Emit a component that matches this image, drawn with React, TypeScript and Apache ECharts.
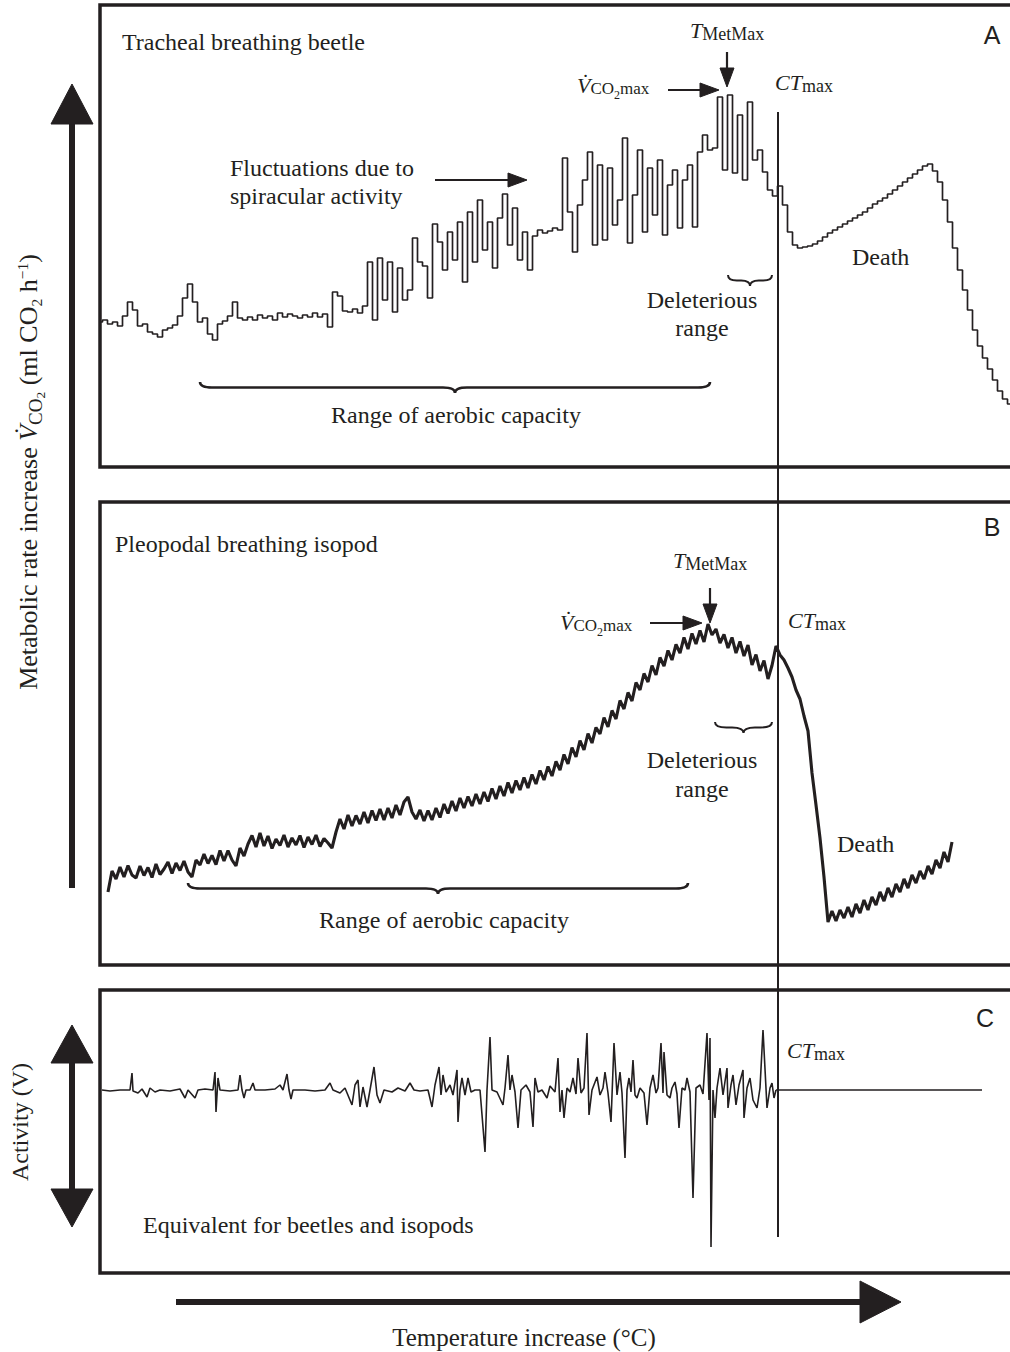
import React, { useEffect, useRef } from 'react';
import * as echarts from 'echarts';

const SERIF = "'Liberation Serif', 'Times New Roman', Times, serif";
const SANS = "'Liberation Sans', Arial, Helvetica, sans-serif";
const INK = '#231f20';

// Temperature index (arbitrary units) shared by the three panels
const tempMax = 93;
const ctMax = 67.8;

// Panel A: tracheal breathing beetle, VCO2 (arbitrary units), sampled every 0.5 temperature units
const beetleStart = 0;
const beetleStep = 0.5;
const beetleVCO2 = [
  29.0, 29.4, 28.6, 29.0, 28.2, 30.2, 33.0, 31.4, 28.2, 28.6,
  27.0, 26.6, 26.0, 27.4, 27.8, 28.4, 30.2, 33.8, 36.6, 33.0,
  29.0, 29.8, 26.6, 25.4, 28.6, 29.2, 30.2, 33.0, 29.8, 29.4,
  30.0, 29.4, 30.4, 29.8, 30.2, 29.4, 30.8, 30.0, 30.6, 30.2,
  29.8, 30.4, 30.0, 30.8, 30.0, 30.6, 28.0, 35.0, 34.2, 31.2,
  31.0, 31.6, 30.8, 32.2, 41.0, 29.4, 41.8, 33.4, 41.0, 31.0,
  39.8, 33.4, 35.4, 45.8, 41.0, 40.2, 33.8, 48.6, 45.0, 39.4,
  47.0, 41.4, 49.0, 37.0, 51.0, 41.0, 53.4, 43.4, 49.0, 39.8,
  49.8, 54.6, 44.4, 51.8, 41.4, 47.0, 39.4, 46.2, 47.4, 46.8,
  47.2, 47.8, 47.4, 61.8, 51.0, 43.0, 52.4, 57.4, 63.0, 44.4,
  60.4, 45.4, 59.8, 48.4, 53.4, 65.8, 44.8, 54.4, 63.4, 47.0,
  59.8, 50.4, 61.4, 46.4, 56.4, 59.4, 47.8, 57.4, 60.4, 48.0,
  63.0, 66.4, 63.4, 63.8, 74.0, 59.4, 74.4, 58.8, 70.4, 57.4,
  73.0, 61.4, 63.4, 59.0, 55.4, 54.2, 56.2, 52.4, 47.0, 44.4,
  43.8, 44.0, 44.2, 44.6, 45.2, 46.0, 46.8, 47.4, 48.0, 48.6,
  49.2, 49.8, 50.4, 51.0, 51.8, 52.6, 53.2, 53.8, 54.6, 55.4,
  56.2, 57.0, 57.8, 58.6, 59.4, 60.2, 60.6, 59.2, 57.0, 53.4,
  49.0, 43.8, 39.4, 35.4, 31.4, 27.4, 24.2, 21.8, 19.6, 17.4,
  15.2, 13.6, 12.6,
];

// Panel B: pleopodal breathing isopod, sampled every 0.4 temperature units
const isopodStart = 0.8;
const isopodStep = 0.4;
const isopodVCO2 = [
  14.6, 18.8, 17.2, 19.6, 17.6, 19.9, 18.0, 17.4, 19.8, 17.9,
  19.5, 17.5, 20.2, 18.1, 19.2, 20.6, 18.3, 20.4, 18.9, 20.8,
  18.6, 17.6, 21.0, 20.0, 22.2, 20.3, 21.9, 20.1, 22.9, 20.8,
  22.9, 21.0, 19.8, 23.4, 21.8, 24.2, 25.9, 23.6, 26.4, 23.8,
  25.8, 23.3, 25.2, 23.9, 26.0, 23.6, 25.4, 24.0, 25.9, 23.5,
  25.6, 24.1, 26.0, 23.7, 25.3, 24.4, 23.4, 26.6, 29.2, 27.2,
  30.0, 27.8, 29.9, 28.2, 30.6, 28.4, 30.9, 28.9, 31.2, 29.0,
  31.4, 29.4, 32.0, 30.0, 32.6, 33.6, 30.6, 29.2, 31.0, 28.8,
  30.9, 29.0, 31.4, 29.5, 32.2, 30.3, 32.8, 30.8, 33.4, 31.4,
  33.7, 31.8, 34.2, 32.2, 34.6, 32.7, 35.3, 33.2, 35.8, 33.8,
  36.5, 34.4, 36.9, 35.0, 37.5, 35.4, 38.1, 36.2, 38.9, 37.0,
  39.7, 37.8, 40.7, 39.0, 42.1, 40.2, 43.5, 41.6, 44.9, 43.0,
  46.3, 44.4, 47.5, 46.2, 49.5, 47.6, 50.9, 49.2, 52.9, 51.2,
  54.5, 52.8, 56.5, 55.0, 58.3, 56.6, 59.9, 58.0, 61.5, 59.8,
  62.9, 61.0, 64.1, 62.4, 65.5, 63.2, 66.3, 64.2, 66.9, 64.6,
  68.2, 66.0, 67.2, 64.4, 66.1, 63.4, 65.5, 62.4, 64.7, 61.8,
  64.0, 60.0, 62.1, 58.8, 60.9, 57.2, 59.9, 63.8, 62.0, 61.0,
  59.4, 57.6, 55.0, 53.2, 49.8, 46.8, 38.4, 32.0, 25.4, 17.6,
  8.6, 10.8, 8.8, 11.0, 9.4, 11.6, 9.6, 12.2, 10.4, 13.0,
  11.0, 13.6, 12.0, 14.6, 12.8, 15.4, 13.6, 16.2, 14.6, 17.2,
  15.4, 18.0, 16.4, 18.8, 17.2, 19.8, 18.2, 21.0, 19.4, 22.6,
  20.6, 24.6,
];

// Panel C: activity (V) as [temperature, voltage] pairs up to CTmax, then flat
const activityBeforeCT = [
  [0.2, 0], [1.0, -0.2], [2.0, 0], [3.0, 0], [3.2, 3.4], [3.3, -0.2], [3.8, -0.6], [4.2, 0.2], [4.7, -1.4], [5.0, 0.4],
  [5.5, -0.4], [6.0, 0], [7.0, -0.2], [8.0, 0.2], [8.5, -1.6], [8.8, 0], [9.5, -1.6], [9.8, 0], [10.5, 0.2], [11.3, 0],
  [11.5, 3.6], [11.6, -4.4], [11.8, 2.4], [12.0, 0], [13.0, -0.2], [13.8, 0], [14.0, 3.0], [14.2, 0], [14.4, -1.6], [14.6, 0],
  [15.0, 0], [15.3, 1.4], [15.5, 0], [16.5, 0], [17.5, 0.2], [18.0, 1.0], [18.3, 0], [18.7, 3.2], [18.9, 0], [19.1, -1.8],
  [19.3, 0], [20.5, 0], [21.5, -0.2], [22.5, 0], [23.0, 1.4], [23.3, 0], [24.0, -0.6], [24.5, 0.4], [25.2, -3.0], [25.5, 1.0],
  [25.8, 2.0], [26.0, -3.4], [26.3, 0.6], [26.7, -3.4], [27.0, 0], [27.4, 4.6], [27.7, -1.0], [28.0, -2.6], [28.4, 0], [29.2, -0.4],
  [29.8, 0.4], [30.5, -0.2], [31.0, 1.4], [31.4, 0], [32.0, -0.2], [32.8, 0], [33.2, -3.4], [33.5, 1.0], [33.9, 4.6], [34.1, -1.0],
  [34.3, 3.0], [34.6, -0.4], [35.0, 1.0], [35.3, -1.0], [35.7, 4.0], [35.8, -6.4], [36.0, 0], [36.2, 2.4], [36.5, -1.0], [36.8, 2.4],
  [37.1, -0.4], [37.5, 0], [38.0, 0], [38.5, -12.4], [38.7, 0], [39.0, 10.6], [39.2, 0], [39.7, -0.4], [40.3, -3.0], [40.5, 0.4],
  [40.8, 7.0], [41.0, 0], [41.2, 3.0], [41.5, -0.4], [41.8, -7.6], [42.1, 0], [42.6, 1.0], [43.0, -0.4], [43.3, -7.4], [43.5, 2.4],
  [43.8, -0.4], [44.2, 0], [44.7, -1.6], [45.0, 0.8], [45.5, -0.4], [45.8, 6.4], [46.0, -4.4], [46.2, 0], [46.4, -5.6], [46.7, 0.4],
  [47.0, -0.4], [47.3, 2.4], [47.6, -0.8], [47.8, 6.4], [48.1, -0.6], [48.4, 0.4], [48.7, 11.4], [48.9, -5.0], [49.2, 0], [49.7, 2.6],
  [50.0, -1.0], [50.3, 0.4], [50.5, 3.6], [50.8, -0.6], [51.1, -6.4], [51.4, 9.4], [51.7, -1.0], [52.0, 3.6], [52.2, -0.6], [52.5, -13.6],
  [52.7, 0], [52.9, 2.4], [53.1, -0.4], [53.3, 6.0], [53.5, -1.0], [53.7, -1.6], [54.0, 0.4], [54.4, -0.6], [54.7, -7.0], [55.0, 0.4],
  [55.3, 3.0], [55.6, -0.6], [55.8, 0.4], [56.1, 9.4], [56.3, -0.6], [56.4, 7.6], [56.7, -1.0], [57.0, -1.6], [57.2, 0.4], [57.5, 1.6],
  [57.7, -0.8], [57.9, -7.6], [58.2, 0.4], [58.5, 0], [58.7, 2.4], [59.0, -0.4], [59.3, -21.6], [59.6, 0.4], [60.0, 1.0], [60.3, -0.8],
  [60.7, 11.4], [60.9, -2.0], [61.0, 10.4], [61.1, -31.4], [61.3, 0], [61.5, -5.6], [61.7, 0.4], [62.0, 4.4], [62.3, -1.0], [62.7, 4.4],
  [62.8, -3.6], [63.1, 1.0], [63.3, 3.0], [63.6, -3.0], [63.9, 1.0], [64.3, 4.0], [64.4, -5.6], [64.7, 0.4], [65.0, 2.4], [65.3, -2.0],
  [65.7, -3.6], [66.0, 0.4], [66.3, 12.0], [66.7, -3.6], [67.0, 0.4], [67.2, 1.4], [67.4, -1.6], [67.6, 0],
];
const activityAfterCT = [[67.6, 0], [78.0, 0], [88.2, 0]];

// Axis ranges for each panel
const beetleRange = [0, 92.4];
const isopodRange = [0, 92.6];
const activityRange = [-36.6, 20];

// Brace shapes
function bracePath(w: number, h: number) {
  const m = w / 2;
  const q = Math.min(12, w / 5);
  const y = h / 2;
  return `M0 0 Q0 ${y} ${q} ${y} L${m - q} ${y} Q${m} ${y} ${m} ${h} Q${m} ${y} ${m + q} ${y} L${w - q} ${y} Q${w} ${y} ${w} 0`;
}
echarts.graphic.registerShape('braceAerobicA', echarts.graphic.extendPath(bracePath(510, 11), {}));
echarts.graphic.registerShape('braceAerobicB', echarts.graphic.extendPath(bracePath(500, 11), {}));
echarts.graphic.registerShape('braceDelA', echarts.graphic.extendPath(bracePath(44, 11), {}));
echarts.graphic.registerShape('braceDelB', echarts.graphic.extendPath(bracePath(57, 11), {}));

const gridStyle = {
  show: true, borderColor: INK, borderWidth: 3.5, backgroundColor: 'transparent',
  outerBoundsMode: 'none', containLabel: false,
};

function text(x: number, y: number, s: string, size = 24, align = 'left', family = SERIF) {
  return {
    type: 'text', x, y, silent: true, z: 10,
    style: { text: s, font: `${size}px ${family}`, fill: INK, align, verticalAlign: 'middle' },
  };
}

const annotRich = {
  it: { fontFamily: SERIF, fontStyle: 'italic', fontSize: 22, fill: INK },
  sub: { fontFamily: SERIF, fontSize: 18, fill: INK, verticalAlign: 'bottom', height: 22 },
  co: { fontFamily: SERIF, fontSize: 17, fill: INK, verticalAlign: 'bottom', height: 22.6 },
  two: { fontFamily: SERIF, fontSize: 12, fill: INK, verticalAlign: 'bottom', height: 11 },
};

function rich(x: number, y: number, s: string) {
  return {
    type: 'text', x, y, silent: true, z: 10,
    style: { text: s, rich: annotRich, lineHeight: 30, fill: INK, align: 'left', verticalAlign: 'middle' },
  };
}

const V = 'V\u0307';

function line(x1: number, y1: number, x2: number, y2: number, w: number) {
  return { type: 'line', silent: true, z: 10, shape: { x1, y1, x2, y2 }, style: { stroke: INK, lineWidth: w } };
}
function head(points: number[][]) {
  return { type: 'polygon', silent: true, z: 10, shape: { points }, style: { fill: INK, stroke: INK, lineWidth: 1 } };
}
function brace(type: string, x: number, y: number, w = 2.6) {
  return { type, x, y, silent: true, z: 10, style: { stroke: INK, fill: 'none', lineWidth: w } };
}

function buildGraphics(ctX: number) {
  const yLabelRich = {
    n: { fontFamily: SERIF, fontSize: 26, fill: INK },
    vi: { fontFamily: SERIF, fontSize: 26, fontStyle: 'italic', fill: INK },
    co: { fontFamily: SERIF, fontSize: 19, fill: INK, verticalAlign: 'bottom', height: 17 },
    c2: { fontFamily: SERIF, fontSize: 13.5, fill: INK, verticalAlign: 'bottom', height: 8 },
    s2: { fontFamily: SERIF, fontSize: 15.5, fill: INK, verticalAlign: 'bottom', height: 15 },
    sup: { fontFamily: SERIF, fontSize: 15.5, fill: INK, verticalAlign: 'top', height: 21 },
  };
  return [
    // CTmax vertical line across panels
    line(ctX, 112, ctX, 1237, 2),

    // Panel A
    text(122, 42, 'Tracheal breathing beetle'),
    text(992, 35, 'A', 25, 'center', SANS),
    text(230, 168, 'Fluctuations due to'),
    text(230, 196, 'spiracular activity'),
    line(435, 180, 512, 180, 2.2),
    head([[527, 180], [508, 173], [508, 187]]),
    rich(577, 85, `{it|${V}}{co|CO}{two|2}{co|max}`),
    line(668, 90, 703, 90, 2.2),
    head([[719, 90], [700, 83], [700, 97]]),
    rich(690, 30, '{it|T}{sub|MetMax}'),
    line(727, 52, 727, 70, 2.2),
    head([[727, 87], [720, 68], [734, 68]]),
    rich(775, 82, '{it|CT}{sub|max}'),
    brace('braceDelA', 728, 275, 2),
    text(702, 300, 'Deleterious', 24, 'center'),
    text(702, 328, 'range', 24, 'center'),
    text(852, 257, 'Death'),
    brace('braceAerobicA', 200, 382),
    text(456, 415, 'Range of aerobic capacity', 24, 'center'),

    // Panel B
    text(115, 544, 'Pleopodal breathing isopod'),
    text(992, 527, 'B', 25, 'center', SANS),
    rich(673, 560, '{it|T}{sub|MetMax}'),
    line(710, 588, 710, 606, 2.2),
    head([[710, 623], [703, 604], [717, 604]]),
    rich(560, 622, `{it|${V}}{co|CO}{two|2}{co|max}`),
    line(650, 623, 686, 623, 2.2),
    head([[702, 623], [683, 616], [683, 630]]),
    rich(788, 620, '{it|CT}{sub|max}'),
    brace('braceDelB', 715, 722, 2),
    text(702, 760, 'Deleterious', 24, 'center'),
    text(702, 789, 'range', 24, 'center'),
    text(837, 844, 'Death'),
    brace('braceAerobicB', 188, 883),
    text(444, 920, 'Range of aerobic capacity', 24, 'center'),

    // Panel C
    text(985, 1018, 'C', 25, 'center', SANS),
    rich(787, 1050, '{it|CT}{sub|max}'),
    text(143, 1225, 'Equivalent for beetles and isopods'),

    // Axis arrows and labels
    line(72, 118, 72, 888, 6),
    head([[72, 84], [51, 124], [93, 124]]),
    {
      type: 'text', x: 28, y: 472, rotation: Math.PI / 2, silent: true, z: 10,
      style: {
        text: `{n|Metabolic rate increase }{vi|${V}}{co|CO}{c2|2}{n| (ml CO}{s2|2}{n| h}{sup|\u22121}{n|)}`,
        rich: yLabelRich, lineHeight: 32, fill: INK, align: 'center', verticalAlign: 'middle',
      },
    },
    line(72, 1058, 72, 1194, 6),
    head([[72, 1025], [51, 1063], [93, 1063]]),
    head([[72, 1227], [51, 1189], [93, 1189]]),
    {
      type: 'text', x: 20, y: 1122, rotation: Math.PI / 2, silent: true, z: 10,
      style: { text: 'Activity (V)', font: `24px ${SERIF}`, fill: INK, align: 'center', verticalAlign: 'middle' },
    },
    line(176, 1302, 865, 1302, 6),
    head([[901, 1302], [860, 1281], [860, 1323]]),
    text(524, 1337, 'Temperature increase (\u00b0C)', 25, 'center'),
  ];
}

const option = {
  animation: false,
  backgroundColor: '#ffffff',
  grid: [
    { left: 100, top: 5, height: 462, width: 930, ...gridStyle },
    { left: 100, top: 502, height: 463, width: 930, ...gridStyle },
    { left: 100, top: 990, height: 283, width: 930, ...gridStyle },
  ],
  xAxis: [0, 1, 2].map((i) => ({ type: 'value', gridIndex: i, min: 0, max: tempMax, show: false })),
  yAxis: [
    { type: 'value', gridIndex: 0, min: beetleRange[0], max: beetleRange[1], show: false },
    { type: 'value', gridIndex: 1, min: isopodRange[0], max: isopodRange[1], show: false },
    { type: 'value', gridIndex: 2, min: activityRange[0], max: activityRange[1], show: false },
  ],
  series: [
    {
      type: 'line', xAxisIndex: 0, yAxisIndex: 0, step: 'middle', symbol: 'none', silent: true,
      data: beetleVCO2.map((v, i) => [beetleStart + i * beetleStep, v]),
      lineStyle: { color: INK, width: 1.7 },
    },
    {
      type: 'line', xAxisIndex: 1, yAxisIndex: 1, symbol: 'none', silent: true,
      data: isopodVCO2.map((v, i) => [isopodStart + i * isopodStep, v]),
      lineStyle: { color: INK, width: 3.1 },
    },
    {
      type: 'line', xAxisIndex: 2, yAxisIndex: 2, symbol: 'none', silent: true,
      data: activityBeforeCT,
      lineStyle: { color: INK, width: 1.6 },
    },
    {
      type: 'line', xAxisIndex: 2, yAxisIndex: 2, symbol: 'none', silent: true,
      data: activityAfterCT,
      lineStyle: { color: INK, width: 1.3 },
    },
  ],
};

export default function App() {
  const ref = useRef<HTMLDivElement>(null);
  useEffect(() => {
    const chart = echarts.init(ref.current as HTMLDivElement, null, { renderer: 'svg' });
    chart.setOption(option as any);
    const ctX = chart.convertToPixel({ xAxisIndex: 0 }, ctMax) as number;
    chart.setOption({ graphic: buildGraphics(ctX) } as any);
    return () => chart.dispose();
  }, []);
  return (
    <div
      ref={ref}
      style={{ position: 'absolute', left: 0, top: 0, width: 1010, height: 1352, background: '#fff' }}
    />
  );
}
